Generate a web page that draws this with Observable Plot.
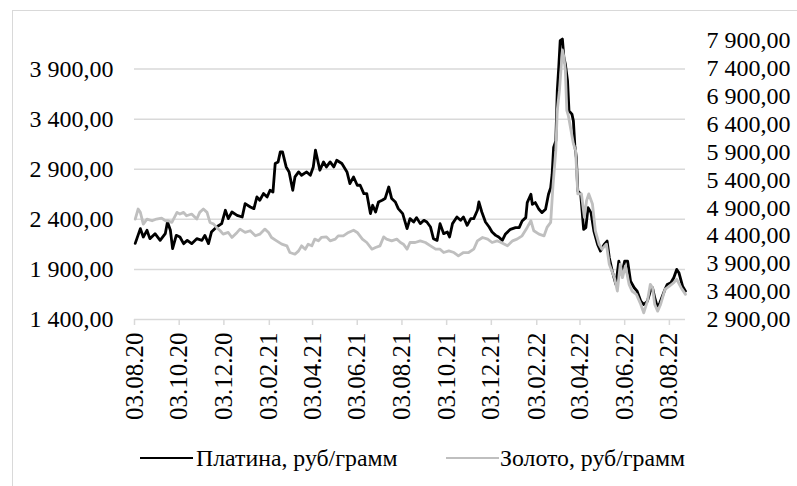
<!DOCTYPE html>
<html>
<head>
<meta charset="utf-8">
<script src="https://cdn.jsdelivr.net/npm/d3@7"></script>
<script src="https://cdn.jsdelivr.net/npm/@observablehq/plot@0.6"></script>
<style>
  html, body { margin: 0; padding: 0; background: #fff; overflow: hidden; }
  #wrap { position: relative; width: 797px; height: 486px; font-family: "Liberation Serif", "Times New Roman", "DejaVu Serif", serif; }
  #border { position: absolute; left: 12px; top: 10px; width: 820px; height: 520px; border: 1.5px solid #d9d9d9; box-sizing: border-box; }
  #chart { position: absolute; left: 0; top: 0; }
  .leg { position: absolute; top: 444px; font-size: 23.8px; line-height: 28px; color: #000; white-space: nowrap; }
  .sw { position: absolute; height: 2.8px; }
</style>
</head>
<body>
<div id="wrap">
  <div id="border"></div>
  <div id="chart"></div>
  <div class="sw" style="left:140px; top:456.5px; width:53px; background:#000;"></div>
  <div class="leg" style="left:196px;">Платина, руб/грамм</div>
  <div class="sw" style="left:446px; top:456.5px; width:53px; background:#bfbfbf;"></div>
  <div class="leg" style="left:500px;">Золото, руб/грамм</div>
</div>
<script>
// ---- Data ----
const platDates = ["2020-08-04","2020-08-11","2020-08-15","2020-08-20","2020-08-24","2020-08-31","2020-09-07","2020-09-14","2020-09-17","2020-09-21","2020-09-24","2020-09-29","2020-10-04","2020-10-09","2020-10-14","2020-10-20","2020-10-27","2020-11-03","2020-11-07","2020-11-12","2020-11-16","2020-11-23","2020-11-30","2020-12-05","2020-12-09","2020-12-14","2020-12-21","2020-12-28","2021-01-01","2021-01-08","2021-01-13","2021-01-17","2021-01-21","2021-01-26","2021-01-31","2021-02-04","2021-02-08","2021-02-11","2021-02-15","2021-02-18","2021-02-21","2021-02-26","2021-03-02","2021-03-07","2021-03-10","2021-03-15","2021-03-19","2021-03-26","2021-03-31","2021-04-04","2021-04-07","2021-04-11","2021-04-13","2021-04-18","2021-04-22","2021-04-27","2021-05-02","2021-05-06","2021-05-13","2021-05-20","2021-05-24","2021-05-29","2021-06-03","2021-06-07","2021-06-12","2021-06-16","2021-06-21","2021-06-24","2021-06-28","2021-07-02","2021-07-07","2021-07-11","2021-07-16","2021-07-20","2021-07-25","2021-07-29","2021-08-04","2021-08-10","2021-08-14","2021-08-19","2021-08-23","2021-08-28","2021-09-02","2021-09-06","2021-09-11","2021-09-15","2021-09-20","2021-09-24","2021-09-29","2021-10-04","2021-10-07","2021-10-11","2021-10-17","2021-10-22","2021-10-26","2021-10-31","2021-11-05","2021-11-09","2021-11-14","2021-11-16","2021-11-20","2021-11-25","2021-11-30","2021-12-04","2021-12-09","2021-12-13","2021-12-18","2021-12-22","2021-12-29","2022-01-05","2022-01-10","2022-01-14","2022-01-19","2022-01-21","2022-01-26","2022-01-28","2022-02-01","2022-02-06","2022-02-10","2022-02-15","2022-02-19","2022-02-22","2022-02-24","2022-02-26","2022-03-01","2022-03-03","2022-03-05","2022-03-07","2022-03-10","2022-03-12","2022-03-14","2022-03-17","2022-03-19","2022-03-23","2022-03-25","2022-03-27","2022-03-29","2022-03-31","2022-04-04","2022-04-08","2022-04-11","2022-04-14","2022-04-18","2022-04-22","2022-04-27","2022-05-01","2022-05-06","2022-05-10","2022-05-13","2022-05-17","2022-05-22","2022-05-26","2022-05-30","2022-06-03","2022-06-07","2022-06-11","2022-06-16","2022-06-20","2022-06-25","2022-06-29","2022-07-04","2022-07-08","2022-07-11","2022-07-14","2022-07-18","2022-07-21","2022-07-27","2022-07-31","2022-08-05","2022-08-09","2022-08-13","2022-08-16","2022-08-21","2022-08-25"];
const platValues = [2160,2307,2223,2290,2207,2257,2190,2257,2373,2290,2107,2240,2223,2157,2190,2157,2207,2190,2240,2157,2273,2323,2357,2490,2407,2473,2440,2423,2557,2523,2507,2623,2590,2657,2623,2690,2673,2957,2973,3073,3073,2923,2873,2690,2823,2873,2840,2873,2840,2923,3090,2957,2890,2973,2923,2973,2923,2990,2957,2873,2757,2823,2740,2740,2657,2657,2457,2540,2473,2573,2590,2607,2723,2607,2573,2507,2457,2307,2407,2373,2417,2357,2390,2373,2323,2207,2190,2357,2257,2273,2223,2357,2423,2390,2423,2340,2407,2407,2490,2573,2473,2373,2323,2273,2240,2223,2190,2250,2300,2317,2317,2383,2417,2567,2650,2550,2567,2500,2467,2500,2650,2717,2850,3117,3183,3683,3917,4183,4200,4017,3950,3783,3483,3450,3383,3133,3017,2683,2650,2300,2317,2517,2467,2283,2150,2083,2150,2183,2017,1883,1750,1983,1850,1983,1983,1783,1717,1683,1583,1550,1583,1683,1717,1617,1517,1567,1683,1750,1767,1817,1900,1867,1733,1683];

const goldDates = ["2020-08-04","2020-08-08","2020-08-11","2020-08-15","2020-08-20","2020-08-27","2020-09-02","2020-09-09","2020-09-14","2020-09-18","2020-09-23","2020-09-30","2020-10-04","2020-10-09","2020-10-13","2020-10-20","2020-10-27","2020-10-31","2020-11-05","2020-11-10","2020-11-14","2020-11-19","2020-11-23","2020-11-28","2020-12-02","2020-12-09","2020-12-14","2020-12-21","2020-12-25","2021-01-01","2021-01-08","2021-01-15","2021-01-21","2021-01-28","2021-02-02","2021-02-06","2021-02-13","2021-02-20","2021-02-27","2021-03-03","2021-03-10","2021-03-15","2021-03-19","2021-03-24","2021-03-28","2021-04-02","2021-04-06","2021-04-11","2021-04-15","2021-04-22","2021-04-27","2021-05-04","2021-05-08","2021-05-15","2021-05-22","2021-05-29","2021-06-03","2021-06-10","2021-06-16","2021-06-23","2021-06-28","2021-07-04","2021-07-09","2021-07-13","2021-07-20","2021-07-27","2021-08-01","2021-08-05","2021-08-10","2021-08-14","2021-08-21","2021-08-28","2021-09-04","2021-09-11","2021-09-18","2021-09-24","2021-09-29","2021-10-06","2021-10-13","2021-10-19","2021-10-26","2021-11-02","2021-11-09","2021-11-14","2021-11-21","2021-11-28","2021-12-04","2021-12-11","2021-12-15","2021-12-25","2022-01-01","2022-01-07","2022-01-14","2022-01-21","2022-01-26","2022-01-30","2022-02-06","2022-02-13","2022-02-17","2022-02-22","2022-02-25","2022-03-01","2022-03-03","2022-03-06","2022-03-10","2022-03-12","2022-03-14","2022-03-16","2022-03-18","2022-03-25","2022-03-28","2022-03-31","2022-04-05","2022-04-09","2022-04-12","2022-04-15","2022-04-20","2022-04-24","2022-04-29","2022-05-03","2022-05-09","2022-05-13","2022-05-20","2022-05-24","2022-05-28","2022-05-31","2022-06-04","2022-06-09","2022-06-13","2022-06-19","2022-06-25","2022-06-29","2022-07-04","2022-07-08","2022-07-11","2022-07-14","2022-07-18","2022-07-22","2022-07-28","2022-08-03","2022-08-09","2022-08-13","2022-08-19","2022-08-25"];
const goldValues = [4700,4880,4820,4610,4700,4670,4700,4718,4670,4670,4640,4820,4790,4820,4760,4790,4700,4820,4880,4820,4640,4610,4550,4490,4430,4460,4370,4460,4520,4460,4490,4400,4430,4520,4460,4370,4310,4250,4220,4100,4070,4130,4220,4160,4250,4220,4340,4310,4370,4380,4310,4340,4400,4400,4460,4500,4460,4340,4280,4160,4190,4220,4380,4340,4310,4340,4280,4250,4160,4280,4280,4310,4280,4220,4160,4160,4100,4130,4100,4040,4100,4100,4160,4310,4370,4340,4280,4310,4290,4220,4310,4340,4400,4550,4670,4490,4430,4400,4550,4640,5270,5930,6650,7010,7730,7610,7370,6650,6560,6050,5930,5150,5150,4730,5030,5150,4970,4490,4250,4160,4250,3890,3650,3410,3890,3650,3860,3530,3410,3350,3170,3020,3230,3530,3470,3170,3050,3170,3440,3500,3560,3620,3470,3350];

const xTicks = ["2020-08-03","2020-10-03","2020-12-03","2021-02-03","2021-04-03","2021-06-03","2021-08-03","2021-10-03","2021-12-03","2022-02-03","2022-04-03","2022-06-03","2022-08-03"];
const leftTicks = [1400, 1900, 2400, 2900, 3400, 3900];
const rightTicks = [2900, 3400, 3900, 4400, 4900, 5400, 5900, 6400, 6900, 7400, 7900];
const leftDomain = [1400, 4185];
const rightDomain = [2900, 7900];
const xDomain = ["2020-08-03", "2022-08-25"];

// ---- Build ----
const parse = d3.utcParse("%Y-%m-%d");
const plat = platDates.map((d, i) => ({date: parse(d), value: platValues[i]}));
const gold = goldDates.map((d, i) => ({date: parse(d), value: goldValues[i]}));

const ru = d3.formatLocale({decimal: ",", thousands: "\u00a0", grouping: [3], currency: ["", " ₽"]});
const fmt = ru.format(",.2f");

// secondary axis mapped onto the primary y scale
const toLeft = d3.scaleLinear().domain(rightDomain).range(leftDomain);

const FONT = "'Liberation Serif', 'Times New Roman', 'DejaVu Serif', serif";

const chart = Plot.plot({
  width: 797,
  height: 420,
  marginLeft: 134,
  marginRight: 112,
  marginTop: 40,
  marginBottom: 101,
  style: {fontFamily: FONT, fontSize: "24px", color: "#000", background: "transparent", overflow: "visible"},
  x: {type: "utc", domain: xDomain.map(parse)},
  y: {domain: leftDomain},
  marks: [
    Plot.gridY(leftTicks, {stroke: "#d9d9d9", strokeOpacity: 1, strokeWidth: 1.5}),
    Plot.axisX(xTicks.map(parse), {
      tickFormat: d3.utcFormat("%d.%m.%y"),
      tickRotate: -90, tickSize: 6, tickPadding: 7,
      stroke: "#d9d9d9", strokeWidth: 1.5, strokeOpacity: 1,
      fontSize: 25, fill: "#000", label: null
    }),
    Plot.axisY(leftTicks, {
      anchor: "left", tickSize: 0, tickPadding: 21, tickFormat: fmt,
      fontSize: 24, fill: "#000", label: null
    }),
    Plot.axisY(rightTicks.map(t => toLeft(t)), {
      anchor: "right", tickSize: 0, tickPadding: 21, tickFormat: v => fmt(Math.round(toLeft.invert(v))),
      fontSize: 24, fill: "#000", label: null
    }),
    Plot.lineY(plat, {x: "date", y: "value", stroke: "#000", strokeWidth: 2.8, strokeLinejoin: "round"}),
    Plot.lineY(gold, {x: "date", y: d => toLeft(d.value), stroke: "#bfbfbf", strokeWidth: 2.8, strokeLinejoin: "round"})
  ]
});
document.getElementById("chart").appendChild(chart);
</script>
</body>
</html>
